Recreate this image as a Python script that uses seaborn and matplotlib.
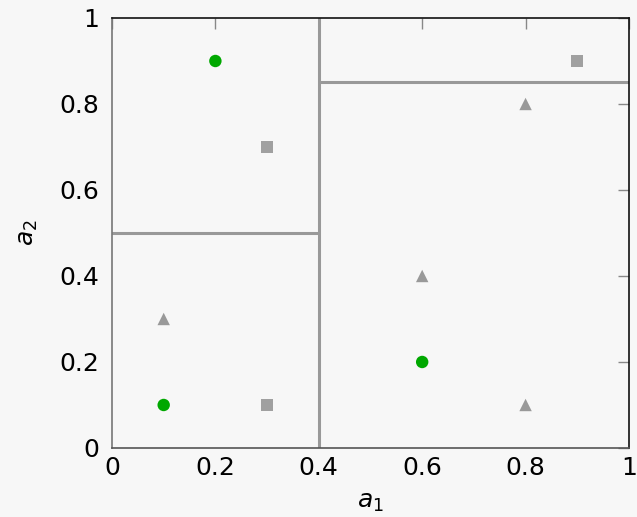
import pandas as pd
import matplotlib
matplotlib.use("Agg")
import matplotlib.pyplot as plt
import seaborn as sns

# Points: a1, a2, class
a1 = [0.2, 0.1, 0.6, 0.3, 0.3, 0.9, 0.1, 0.6, 0.8, 0.8]
a2 = [0.9, 0.1, 0.2, 0.7, 0.1, 0.9, 0.3, 0.4, 0.8, 0.1]
cls = ["circle"] * 3 + ["square"] * 3 + ["triangle"] * 4

# Split lines
split_x = 0.4
split_left_y = 0.5
split_right_y = 0.85

ticks = [0, 0.2, 0.4, 0.6, 0.8, 1]
tick_labels = ["0", "0.2", "0.4", "0.6", "0.8", "1"]

df = pd.DataFrame({"a1": a1, "a2": a2, "cls": cls})

sns.set_style("white")
plt.rcParams["font.family"] = ["DejaVu Sans"]
plt.rcParams["mathtext.fontset"] = "dejavusans"

bg = "#f7f7f7"
fig = plt.figure(figsize=(6.37, 5.17), dpi=100, facecolor=bg)
ax = fig.add_axes([0.1758, 0.1335, 0.8116, 0.8317])
ax.set_facecolor(bg)

line_kw = dict(color="#999999", lw=2.2, zorder=1)
ax.plot([split_x, split_x], [0, 1], **line_kw)
ax.plot([0, split_x], [split_left_y, split_left_y], **line_kw)
ax.plot([split_x, 1], [split_right_y, split_right_y], **line_kw)

sns.scatterplot(
    data=df, x="a1", y="a2", hue="cls", style="cls",
    palette={"circle": "#00a800", "square": "#a0a0a0", "triangle": "#999999"},
    markers={"circle": "o", "square": "s", "triangle": "^"},
    s=80, linewidth=0, legend=False, ax=ax, zorder=3,
)

ax.set_xlim(0, 1)
ax.set_ylim(0, 1)
ax.set_xticks(ticks)
ax.set_xticklabels(tick_labels)
ax.set_yticks(ticks)
ax.set_yticklabels(tick_labels)
ax.tick_params(direction="in", length=8, width=1, color="#888888",
               labelsize=18, labelcolor="black", top=True, right=True)
ax.tick_params(axis="x", pad=6)
ax.tick_params(axis="y", pad=9)
ax.set_xlabel("$a_1$", fontsize=18, labelpad=7, color="black")
ax.set_ylabel("$a_2$", fontsize=18, labelpad=14, color="black")

ax.spines["left"].set_color("#777777")
ax.spines["bottom"].set_color("#555555")
ax.spines["top"].set_color("#111111")
ax.spines["right"].set_color("#111111")
for sp in ax.spines.values():
    sp.set_linewidth(1.2)

fig.savefig("out.png", dpi=100, facecolor=bg)
